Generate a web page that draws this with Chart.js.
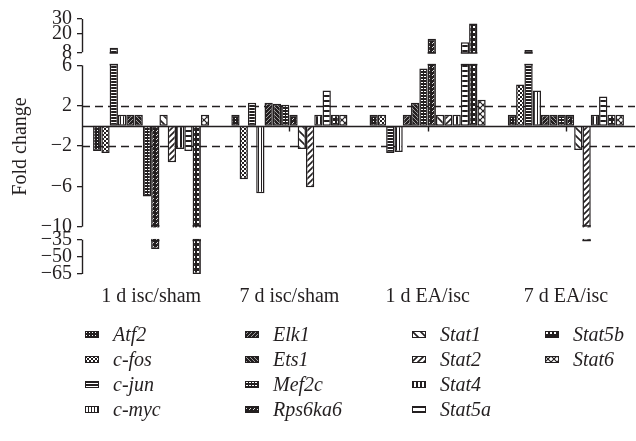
<!DOCTYPE html>
<html>
<head>
<meta charset="utf-8">
<script src="https://cdn.jsdelivr.net/npm/chart.js@4.4.0/dist/chart.umd.min.js"></script>
<style>
  body { margin: 0; background: #fff; }
  #wrap { position: relative; width: 636px; height: 441px; }
  #legend {
    position: absolute; left: 85px; top: 322px;
    display: grid; grid-auto-flow: column;
    grid-template-rows: repeat(4, 25px);
    grid-template-columns: 160px 167px 133px 91px;
    font: italic 20px "Liberation Serif", "Times New Roman", serif;
    color: #231f20;
  }
  .item { display: flex; align-items: center; white-space: nowrap; }
  .item canvas { margin-right: 14px; }
</style>
</head>
<body>
<div id="wrap">
  <canvas id="chart" width="636" height="323"></canvas>
  <div id="legend"></div>
</div>
<script>
const groups = ['1 d isc/sham', '7 d isc/sham', '1 d EA/isc', '7 d EA/isc'];
const genes = ['Atf2', 'c-fos', 'c-jun', 'c-myc', 'Elk1', 'Ets1', 'Mef2c', 'Rps6ka6',
               'Stat1', 'Stat2', 'Stat4', 'Stat5a', 'Stat5b', 'Stat6'];

// fold change per group
const atf2    = [-2.5, 1.1, 1.1, 1.1];
const cFos    = [-2.7, -5.3, 1.1, 4.1];
const cJun    = [11, 2.3, -2.7, 9.5];
const cMyc    = [1.1, -6.7, -2.6, 3.5];
const elk1    = [1.1, 2.3, 1.1, 1.1];
const ets1    = [1.1, 2.2, 2.3, 1.1];
const mef2c   = [-7.0, 2.1, 5.7, 1.1];
const rps6ka6 = [-43, 1.1, 17, 1.1];
const stat1   = [1.1, -2.3, 1.1, -2.4];
const stat2   = [-3.6, -6.1, 1.1, -36];
const stat4   = [-2.3, 1.1, 1.1, 1.1];
const stat5a  = [-2.5, 3.5, 14.7, 2.9];
const stat5b  = [-65, 1.1, 27, 1.1];
const stat6   = [1.1, 1.1, 2.6, 1.1];
const seriesValues = [atf2, cFos, cJun, cMyc, elk1, ets1, mef2c, rps6ka6,
                      stat1, stat2, stat4, stat5a, stat5b, stat6];

const yTickValues = [30, 20, 8, 6, 2, -2, -6, -10, -35, -50, -65];
const yTickLabels = ['30', '20', '8', '6', '2', '\u22122', '\u22126', '\u221210', '\u221235', '\u221250', '\u221265'];
const cutoffs = [2, -2];

const INK = '#231f20';
const serif = '"Liberation Serif", "Times New Roman", serif';

// broken axis: -10..6 linear, 8..30 and -35..-65 squeezed, gaps between
function toAxis(v) {
  if (v > 8) return 7.3 + (v - 8) * 0.15;
  if (v > 6) return 6 + (v - 6) * 0.65;
  if (v < -35) return -11.3 + (v + 35) * 0.1133;
  if (v < -10) return -10 + (v + 10) * 0.052;
  return v;
}

function pattern(w, h, draw) {
  const c = document.createElement('canvas');
  c.width = w; c.height = h;
  const g = c.getContext('2d');
  draw(g, w, h);
  return g.createPattern(c, 'repeat');
}
function diag(g, w, h, dir) {
  g.beginPath();
  if (dir > 0) {
    g.moveTo(-1, h + 1); g.lineTo(w + 1, -1);
    g.moveTo(-1 - w, h + 1); g.lineTo(1, -1);
    g.moveTo(w - 1, h + 1); g.lineTo(2 * w + 1, -1);
  } else {
    g.moveTo(-1, -1); g.lineTo(w + 1, h + 1);
    g.moveTo(-1 - w, -1); g.lineTo(1, h + 1);
    g.moveTo(w - 1, -1); g.lineTo(2 * w + 1, h + 1);
  }
  g.stroke();
}

const fills = [
  // Atf2 dense dots
  pattern(3, 3, g => { g.fillStyle = INK; g.fillRect(0, 0, 3, 3); g.fillStyle = '#fff'; g.fillRect(1, 1, 1, 1); }),
  // c-fos checker
  pattern(4, 4, g => { g.fillStyle = '#fff'; g.fillRect(0, 0, 4, 4); g.fillStyle = INK; g.fillRect(0, 0, 2, 2); g.fillRect(2, 2, 2, 2); }),
  // c-jun horizontal lines
  pattern(3, 3, g => { g.fillStyle = '#fff'; g.fillRect(0, 0, 3, 3); g.fillStyle = INK; g.fillRect(0, 0, 3, 2); }),
  // c-myc vertical lines
  pattern(3, 3, g => { g.fillStyle = '#fff'; g.fillRect(0, 0, 3, 3); g.fillStyle = INK; g.fillRect(0, 0, 1, 3); }),
  // Elk1 dark, fine /
  pattern(4, 4, (g, w, h) => { g.fillStyle = INK; g.fillRect(0, 0, w, h); g.strokeStyle = '#bbb'; g.lineWidth = 0.8; diag(g, w, h, 1); }),
  // Ets1 dark, fine \
  pattern(4, 4, (g, w, h) => { g.fillStyle = INK; g.fillRect(0, 0, w, h); g.strokeStyle = '#bbb'; g.lineWidth = 0.8; diag(g, w, h, -1); }),
  // Mef2c grid
  pattern(3, 3, g => { g.fillStyle = INK; g.fillRect(0, 0, 3, 3); g.fillStyle = '#fff'; g.fillRect(1, 1, 2, 1); }),
  // Rps6ka6 dashed diagonal
  pattern(4, 4, g => { g.fillStyle = INK; g.fillRect(0, 0, 4, 4); g.fillStyle = '#ddd'; g.fillRect(0, 3, 1, 1); g.fillRect(1, 2, 1, 1); }),
  // Stat1 wide \
  pattern(8, 8, (g, w, h) => { g.fillStyle = '#fff'; g.fillRect(0, 0, w, h); g.strokeStyle = INK; g.lineWidth = 1.6; diag(g, w, h, -1); }),
  // Stat2 /
  pattern(6, 6, (g, w, h) => { g.fillStyle = '#fff'; g.fillRect(0, 0, w, h); g.strokeStyle = INK; g.lineWidth = 1.6; diag(g, w, h, 1); }),
  // Stat4 vertical bars
  pattern(4, 4, g => { g.fillStyle = '#fff'; g.fillRect(0, 0, 4, 4); g.fillStyle = INK; g.fillRect(0, 0, 2, 4); }),
  // Stat5a heavy horizontal bands
  pattern(5, 5, g => { g.fillStyle = '#fff'; g.fillRect(0, 0, 5, 5); g.fillStyle = INK; g.fillRect(0, 0, 5, 2); }),
  // Stat5b white bricks on black
  pattern(4, 5, g => { g.fillStyle = INK; g.fillRect(0, 0, 4, 5); g.fillStyle = '#fff'; g.fillRect(1, 1, 2, 2); }),
  // Stat6 cross-hatch
  pattern(6, 6, (g, w, h) => { g.fillStyle = '#fff'; g.fillRect(0, 0, w, h); g.strokeStyle = INK; g.lineWidth = 1.2; diag(g, w, h, 1); diag(g, w, h, -1); })
];

const datasets = genes.map((gene, i) => ({
  label: gene,
  data: seriesValues[i].map(toAxis),
  rawValues: seriesValues[i],
  backgroundColor: fills[i],
  borderColor: INK,
  borderWidth: 1.5,
  borderSkipped: false,
  categoryPercentage: 0.84,
  barPercentage: 1
}));

function hline(ctx, x1, x2, y) {
  ctx.beginPath(); ctx.moveTo(x1, y); ctx.lineTo(x2, y); ctx.stroke();
}

const brokenAxis = {
  id: 'brokenAxis',
  beforeDatasetsDraw(chart) {
    const { ctx, chartArea: a, scales: { y } } = chart;
    ctx.save();
    ctx.strokeStyle = INK;
    ctx.lineWidth = 1.3;
    ctx.setLineDash([8, 5]);
    cutoffs.forEach(v => hline(ctx, a.left, a.right, Math.round(y.getPixelForValue(v)) + 0.5));
    ctx.restore();
  },
  afterDatasetsDraw(chart) {
    const { ctx, chartArea: a, scales: { x, y } } = chart;
    const topHi = y.getPixelForValue(toAxis(8)), topLo = y.getPixelForValue(toAxis(6));
    const botHi = y.getPixelForValue(toAxis(-10)), botLo = y.getPixelForValue(toAxis(-35));
    ctx.save();
    ctx.fillStyle = '#fff';
    ctx.fillRect(a.left, topHi + 0.8, a.right - a.left, topLo - topHi - 1.6);
    ctx.fillRect(a.left, botHi + 0.8, a.right - a.left, botLo - botHi - 1.6);

    // close the cut ends of bars that cross a break
    ctx.strokeStyle = INK;
    ctx.lineWidth = 1.5;
    chart.data.datasets.forEach((ds, di) => {
      chart.getDatasetMeta(di).data.forEach((bar, j) => {
        const v = ds.rawValues[j];
        const l = bar.x - bar.width / 2, r = bar.x + bar.width / 2;
        if (v > 8) { hline(ctx, l, r, topHi + 0.75); hline(ctx, l, r, topLo - 0.75); }
        if (v < -35) { hline(ctx, l, r, botHi - 0.75); hline(ctx, l, r, botLo + 0.75); }
      });
    });

    // zero line and short category ticks below it
    const zero = Math.round(y.getPixelForValue(0)) + 0.5;
    ctx.lineWidth = 1.4;
    hline(ctx, a.left, a.right, zero);
    x.ticks.forEach((t, i) => {
      const px = Math.round(x.getPixelForTick(i)) + 0.5;
      ctx.beginPath(); ctx.moveTo(px, zero); ctx.lineTo(px, zero + 5); ctx.stroke();
    });

    // axis line in three pieces
    const ax = Math.round(a.left) + 0.5;
    [[30, 8], [6, -10], [-35, -65]].forEach(([hi, lo]) => {
      ctx.beginPath();
      ctx.moveTo(ax, y.getPixelForValue(toAxis(hi)));
      ctx.lineTo(ax, y.getPixelForValue(toAxis(lo)));
      ctx.stroke();
    });
    ctx.restore();
  }
};

const font = { family: serif, size: 20 };

const chart = new Chart(document.getElementById('chart'), {
  type: 'bar',
  data: { labels: groups, datasets },
  options: {
    responsive: false,
    animation: false,
    devicePixelRatio: 1,
    layout: { padding: { top: 19, right: 1, bottom: 3, left: 0 } },
    plugins: { legend: { display: false }, tooltip: { enabled: false } },
    scales: {
      x: {
        grid: { display: false, drawTicks: false },
        border: { display: false },
        ticks: { font, color: INK, padding: 11, maxRotation: 0 }
      },
      y: {
        min: toAxis(-65),
        max: toAxis(30),
        afterBuildTicks: s => { s.ticks = yTickValues.map(v => ({ value: toAxis(v) })); },
        afterFit: s => { s.width = 82; },
        ticks: { font, color: INK, padding: 5, autoSkip: false, callback: (v, i) => yTickLabels[i] },
        grid: { drawOnChartArea: false, drawTicks: true, tickLength: 5, color: INK, lineWidth: 1.3 },
        border: { display: false },
        title: { display: true, text: 'Fold change', font, color: INK, padding: { top: 9, bottom: 0 } }
      }
    }
  },
  plugins: [brokenAxis]
});

// legend laid out column by column under the chart
const legendBox = document.getElementById('legend');
chart.options.plugins.legend.labels.generateLabels(chart).forEach(item => {
  const row = document.createElement('div');
  row.className = 'item';
  const sw = document.createElement('canvas');
  sw.width = 14; sw.height = 7;
  const g = sw.getContext('2d');
  g.fillStyle = item.fillStyle;
  g.fillRect(0, 0, 14, 7);
  g.strokeStyle = INK;
  g.lineWidth = 1;
  g.strokeRect(0.5, 0.5, 13, 6);
  const txt = document.createElement('span');
  txt.textContent = item.text;
  row.appendChild(sw);
  row.appendChild(txt);
  legendBox.appendChild(row);
});
</script>
</body>
</html>
